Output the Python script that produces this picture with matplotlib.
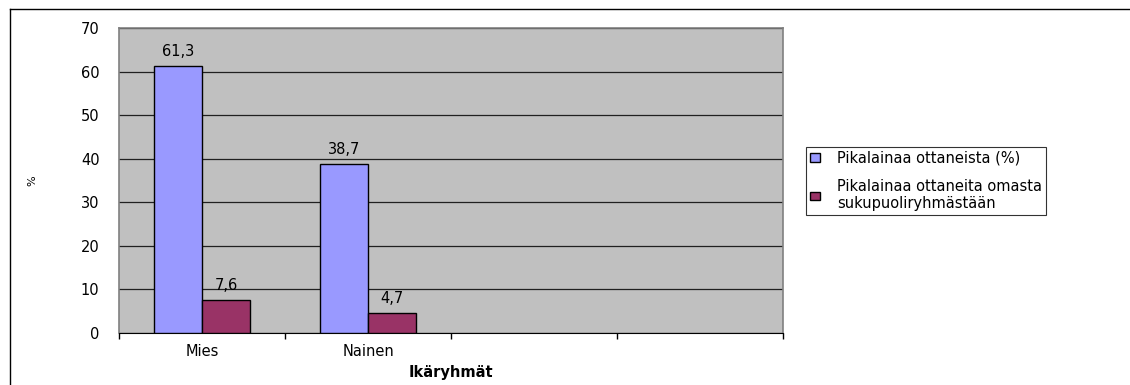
import numpy as np
import matplotlib.pyplot as plt
from matplotlib.lines import Line2D

plt.rcParams['font.family'] = ['DejaVu Sans']

# tiedot
categories = ["Mies", "Nainen", "", ""]
series_names = ["Pikalainaa ottaneista (%)",
                "Pikalainaa ottaneita omasta\nsukupuoliryhmästään"]
share_of_borrowers = [61.3, 38.7]
share_of_own_group = [7.6, 4.7]
y_ticks = [0, 10, 20, 30, 40, 50, 60, 70]

colors = ["#9999FF", "#993366"]
fs = 10.5

fig = plt.figure(figsize=(11.3, 3.85), dpi=100)
ax = fig.add_axes([119 / 1130, 1 - 333 / 385, 664 / 1130, 305 / 385])
ax.set_facecolor("#C0C0C0")

x = np.arange(len(share_of_borrowers))
w = 0.29
b1 = ax.bar(x - w / 2, share_of_borrowers, w, color=colors[0],
            edgecolor="black", linewidth=1, label=series_names[0], zorder=3)
b2 = ax.bar(x + w / 2, share_of_own_group, w, color=colors[1],
            edgecolor="black", linewidth=1, label=series_names[1], zorder=3)

# arvot pylväiden päälle pilkulla
for bars in (b1, b2):
    for r in bars:
        v = r.get_height()
        ax.annotate(f"{v:.1f}".replace(".", ","),
                    (r.get_x() + r.get_width() / 2, v),
                    xytext=(0, 5), textcoords="offset points",
                    ha="center", va="bottom", fontsize=fs)

ax.set_xlim(-0.5, len(categories) - 0.5)
ax.set_ylim(0, 70)
ax.set_yticks(y_ticks)
ax.tick_params(axis="y", length=0, pad=14, labelsize=fs)
ax.yaxis.grid(True, color="#202020", linewidth=0.9, zorder=0)

# jakoviivat kategorioiden välissä, nimet keskellä
ax.set_xticks(np.arange(len(categories) + 1) - 0.5)
ax.set_xticklabels([])
ax.tick_params(axis="x", which="major", length=4, direction="out", width=1)
ax.set_xticks(np.arange(len(categories)), minor=True)
ax.set_xticklabels(categories, minor=True)
ax.tick_params(axis="x", which="minor", length=0, pad=8, labelsize=fs)

for s in ("top", "right", "left"):
    ax.spines[s].set_color("#808080")
    ax.spines[s].set_linewidth(1.2)
ax.spines["bottom"].set_color("black")

ax.set_xlabel("Ikäryhmät", fontweight="bold", fontsize=fs, labelpad=4)
ax.set_ylabel("%", fontsize=8, rotation=90)
ax.yaxis.set_label_coords(-0.1235, 0.5)

leg = ax.legend(loc="upper left", bbox_to_anchor=(806 / 1130, 1 - 147 / 385),
                bbox_transform=fig.transFigure, fontsize=fs, frameon=True,
                fancybox=False, edgecolor="black", handlelength=0.7,
                handleheight=0.5, handletextpad=1.2, borderpad=0.25,
                borderaxespad=0, labelspacing=0.9)
leg.get_frame().set_linewidth(0.8)

# kaavion kehys
fig.add_artist(Line2D([10 / 1130, 1], [1 - 9 / 385] * 2, color="black", lw=1))
fig.add_artist(Line2D([10 / 1130] * 2, [0, 1 - 9 / 385], color="black", lw=1))

fig.savefig("out.png", dpi=100)
